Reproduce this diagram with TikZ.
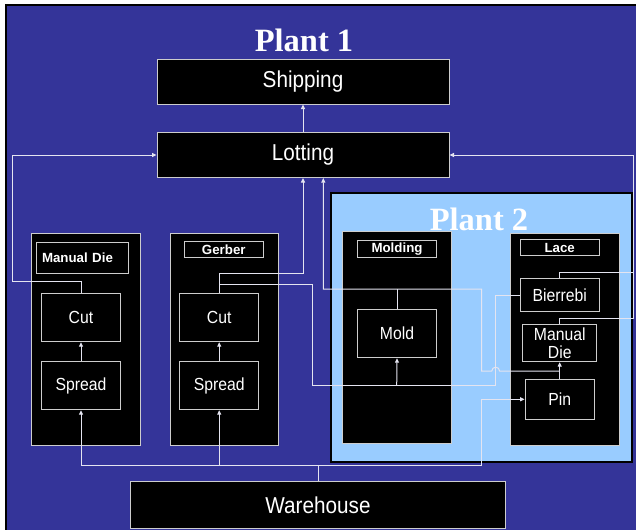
\documentclass[tikz,border=0pt]{standalone}
\usepackage{fontspec}
\setmainfont{Liberation Sans}
\newfontfamily\boxfont{Liberation Sans}[FakeStretch=0.9]
\newfontfamily\titlefont{Liberation Serif}
\usetikzlibrary{arrows.meta}
\definecolor{bgblue}{RGB}{52,52,153}
\definecolor{p2blue}{RGB}{153,204,255}
\definecolor{lncol}{RGB}{228,228,240}
\definecolor{bdcol}{RGB}{205,205,205}
\begin{document}
\begin{tikzpicture}[x=1pt,y=-1pt,
  box/.style={draw=bdcol, line width=1pt, fill=black, text=white, inner sep=0pt, align=center},
  bigbox/.style={box, font=\boxfont\fontsize{23}{26}\selectfont},
  smallbox/.style={box, font=\boxfont\fontsize{17.5}{18.5}\selectfont},
  labbox/.style={box, font=\fontsize{13.3}{16}\selectfont\bfseries},
  colbox/.style={box},
  ln/.style={draw=lncol, line width=1pt},
  arr/.style={ln, -{Triangle[length=4.5pt,width=4pt]}},
  titletext/.style={text=white, font=\titlefont\bfseries\fontsize{32.5}{36}\selectfont, inner sep=0pt, anchor=base}]
\useasboundingbox (0,0) rectangle (636,530);
% page and frame
\fill[white] (0,0) rectangle (636,530);
\fill[black] (5,4) rectangle (636,530);
\fill[bgblue] (6.8,6) rectangle (636,530);
% Plant 2 area
\draw[black, line width=2.2pt, fill=p2blue] (331,192.8) rectangle (631.6,462.2);
% titles
\node[titletext] (t1) at (304,51.7) {Plant 1};
\node[titletext] (t2) at (479,230) {Plant 2};
% columns
\node[colbox, minimum width=108.6pt, minimum height=211.7pt] (col1) at (86,339.2) {};
\node[colbox, minimum width=108.3pt, minimum height=211.7pt] (col2) at (224.2,339.2) {};
\node[colbox, minimum width=108.3pt, minimum height=211.6pt] (col3) at (396.9,337.5) {};
\node[colbox, minimum width=108.3pt, minimum height=211.7pt] (col4) at (564.9,339.2) {};
% column labels
\node[labbox, minimum height=31pt, text width=81pt, align=left, inner xsep=5.7pt] (lab1) at (82.5,257.8) {Manual Die};
\node[labbox, minimum width=79pt, minimum height=16.4pt] (lab2) at (223.8,249.5) {Gerber};
\node[labbox, minimum width=79.4pt, minimum height=16.7pt] (lab3) at (397,249.3) {Molding};
\node[labbox, minimum width=79.3pt, minimum height=16.4pt] (lab4) at (559.7,247.5) {Lace};
% main boxes
\node[bigbox, minimum width=292pt, minimum height=45pt] (ship) at (303,81.5) {Shipping};
\node[bigbox, minimum width=292pt, minimum height=45pt] (lot) at (303,155) {Lotting};
\node[bigbox, minimum width=375pt, minimum height=46.5pt] (wh) at (318,505) {Warehouse};
% inner boxes
\node[smallbox, minimum width=79.4pt, minimum height=48pt] (cut1) at (81,317.7) {Cut};
\node[smallbox, minimum width=79.4pt, minimum height=48pt] (spr1) at (81,385.7) {Spread};
\node[smallbox, minimum width=79pt, minimum height=48pt] (cut2) at (219.2,317.7) {Cut};
\node[smallbox, minimum width=79pt, minimum height=48pt] (spr2) at (219.2,385.7) {Spread};
\node[smallbox, minimum width=79.4pt, minimum height=48.4pt] (mold) at (397,333.5) {Mold};
\node[smallbox, minimum width=79.3pt, minimum height=32.7pt] (bier) at (559.7,295.3) {Bierrebi};
\node[smallbox, minimum width=74pt, minimum height=36.7pt] (mdie) at (559.7,343.3) {Manual\\Die};
\node[smallbox, minimum width=69.3pt, minimum height=40pt] (pin) at (559.7,399.3) {Pin};
% connectors
\draw[arr] (lot.north) -- (ship.south);
\draw[arr] (spr1.north) -- (cut1.south);
\draw[arr] (spr2.north) -- (cut2.south);
\draw[arr] (pin.north) -- (mdie.south);
\draw[arr] (cut1.north) -- (81,281) -- (12,281) -- (12,155) -- (lot.west);
\draw[arr] (cut2.north) -- (219.2,273.3) -- (303,273.3) -- (lot.south);
\draw[ln] (219.2,284.3) -- (312.7,284.3) -- (312.7,385.7) -- (495.7,385.7) -- (495.7,295.3) -- (bier.west);
\draw[arr] (396.7,385.7) -- (mold.south);
\draw[ln] (mold.north) -- (397,289);
\draw[arr] (559.7,371) -- (499.6,371) .. controls (499.6,366) and (491.8,366) .. (491.8,371) -- (481.5,371) -- (481.5,289) -- (323.3,289) -- ([xshift=20.3pt]lot.south);
\draw[arr] (bier.north) -- (559.7,272.7) -- (633.3,272.7) -- (633.3,155) -- (lot.east);
\draw[ln] (mdie.north) -- (559.7,318.3) -- (633.3,318.3) -- (633.3,272.7);
\draw[ln] (wh.north) -- (318,465.7);
\draw[ln] (81,465.7) -- (481.5,465.7);
\draw[arr] (81,465.7) -- (spr1.south);
\draw[arr] (219.2,465.7) -- (spr2.south);
\draw[arr] (481.5,465.7) -- (481.5,399.3) -- (pin.west);
\end{tikzpicture}
\end{document}
